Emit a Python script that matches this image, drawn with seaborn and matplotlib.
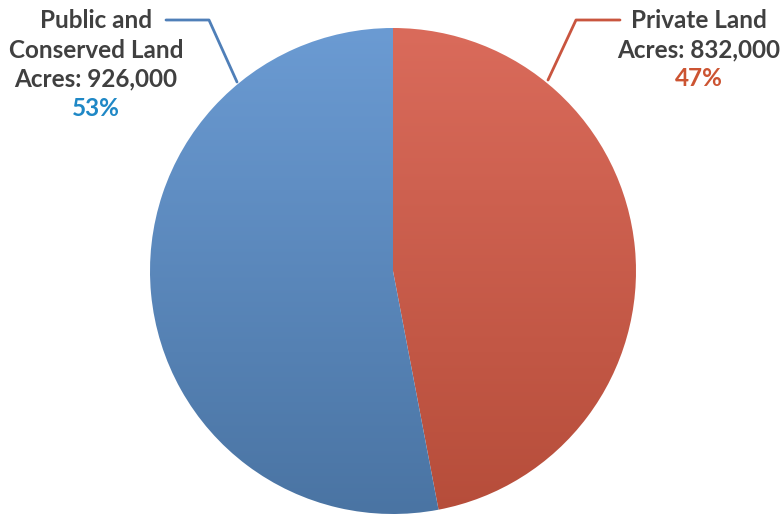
import numpy as np
import matplotlib
matplotlib.use("Agg")
import matplotlib.pyplot as plt
import seaborn as sns
from matplotlib.colors import LinearSegmentedColormap

# data
labels = ["Private Land", "Public and\nConserved Land"]
acres = [832000, 926000]
percents = [47, 53]

top_colors = ["#DA6B5B", "#6B9BD3"]
bottom_colors = ["#B64D3A", "#4A74A3"]
pct_colors = ["#CC5432", "#1F88C6"]
line_colors = ["#C9553F", "#4F7FB8"]

sns.set_style("white")
plt.rcParams["font.family"] = ["Lato", "DejaVu Sans"]

W, H = 782, 514
fig = plt.figure(figsize=(W / 100, H / 100), dpi=100)
ax = fig.add_axes([0, 0, 1, 1])

cx, cy, r = 393, H - 271, 243
wedges, _ = ax.pie(percents, center=(cx, cy), radius=r, startangle=90,
                   counterclock=False, colors=["none", "none"],
                   wedgeprops=dict(linewidth=0))

# vertical gradient fill, clipped to each wedge
grad = np.linspace(0, 1, 256).reshape(-1, 1)
for w, c_top, c_bot in zip(wedges, top_colors, bottom_colors):
    cmap = LinearSegmentedColormap.from_list("g", [c_top, c_bot])
    im = ax.imshow(grad, cmap=cmap, aspect="auto", origin="upper",
                   extent=(cx - r, cx + r, cy - r, cy + r), zorder=1)
    im.set_clip_path(w)
    w.set_zorder(2)

ax.set_xlim(0, W)
ax.set_ylim(0, H)
ax.set_aspect("equal")
ax.axis("off")

# leader lines
ax.plot([620, 576, 548], [H - 20, H - 20, H - 80], color=line_colors[0], lw=2, zorder=3)
ax.plot([166, 209, 237], [H - 20, H - 20, H - 82], color=line_colors[1], lw=2, zorder=3)

txt = dict(color="#404040", fontsize=17.5, fontweight="bold", ha="center", va="center")
# Private land label
ax.text(699, H - 20, labels[0], **txt)
ax.text(699, H - 50, f"Acres: {acres[0]:,}", **txt)
ax.text(699, H - 79, f"{percents[0]}%", **{**txt, "color": pct_colors[0]})
# Public land label
line1, line2 = labels[1].split("\n")
ax.text(96, H - 20, line1, **txt)
ax.text(96, H - 50, line2, **txt)
ax.text(96, H - 79, f"Acres: {acres[1]:,}", **txt)
ax.text(96, H - 108, f"{percents[1]}%", **{**txt, "color": pct_colors[1]})

fig.savefig("out.png", dpi=100)
